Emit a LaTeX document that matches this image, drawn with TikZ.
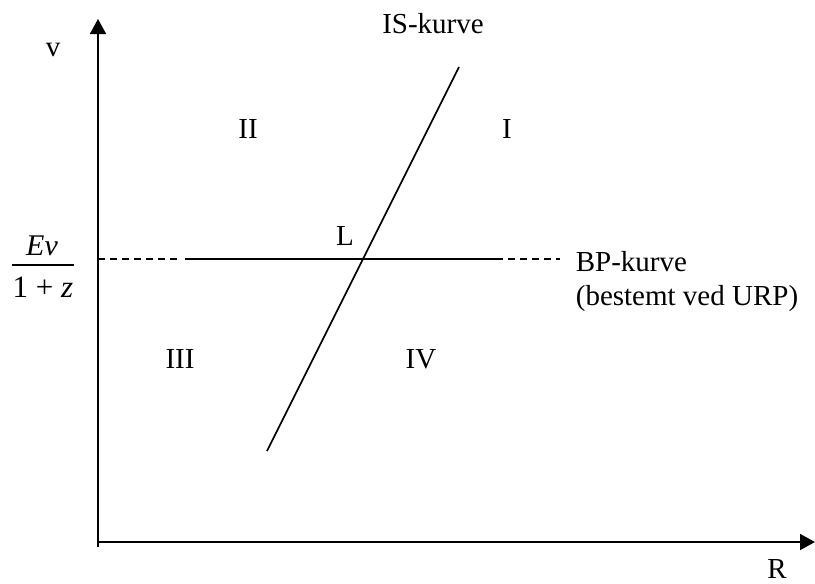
\documentclass[tikz,border=0pt]{standalone}
\usepackage{fontspec}
\setmainfont{Liberation Serif}
\usetikzlibrary{arrows.meta}

\begin{document}
\begin{tikzpicture}[x=0.5pt, y=-0.5pt, line width=0.85pt,
  every node/.style={font=\fontsize{14.5}{17}\selectfont, inner sep=0pt},
  axis/.style={-{Triangle[length=7.5pt,width=8pt]}},
  bpdash/.style={dash pattern=on 3.5pt off 2.5pt},
  lbl/.style={anchor=base}]
  \useasboundingbox (0,0) rectangle (815,584);

  % Define axis ends
  \coordinate (O) at (98,542);    % origin
  \coordinate (Ybot) at (98,547);
  \coordinate (Ytop) at (98,19);   % v
  \coordinate (Xend) at (815,542); % R

  % Draw axes
  \draw[axis] (Ybot) -- (Ytop);
  \draw[axis] (O) -- (Xend);
  \node[lbl] (v) at (53,56) {v};
  \node[lbl] (R) at (777,578) {R};

  % IS-kurve
  \coordinate (ISlow) at (267,451);
  \coordinate (IShigh) at (459,67);
  \draw (ISlow) -- (IShigh);
  \node[lbl] (ISlabel) at (433,33) {IS-kurve};

  % BP-kurve (solid middle, dashed ends)
  \coordinate (BPa) at (98,259);
  \coordinate (BPb) at (178,259);
  \coordinate (BPc) at (185,259);
  \coordinate (BPd) at (496,259);
  \coordinate (BPe) at (560,259);
  \draw[bpdash] (BPa) -- (BPb);
  \draw (BPc) -- (BPd);
  \draw[bpdash] (BPd) -- (BPe);
  \node[lbl, anchor=base west, align=left, font=\fontsize{14.5}{17}\selectfont]
    (BPlabel) at (575,305) {BP-kurve\\(bestemt ved URP)};

  % Level on the v axis
  \node[lbl, font=\fontsize{15}{18}\selectfont] (Ev) at (42,255) {\textit{Ev}};
  \node[lbl, font=\fontsize{15.5}{18}\selectfont] (onez) at (43,297) {1 + \textit{z}};
  \coordinate (fracL) at (12,265);
  \coordinate (fracR) at (74,265);
  \draw[line width=0.7pt] (fracL) -- (fracR);

  % Intersection
  \node[lbl] (L) at (345,245) {L};

  % Regions
  \node[lbl] (I) at (507,138) {I};
  \node[lbl] (II) at (248,138) {II};
  \node[lbl] (III) at (180,368) {III};
  \node[lbl] (IV) at (421,368) {IV};

\end{tikzpicture}
\end{document}
